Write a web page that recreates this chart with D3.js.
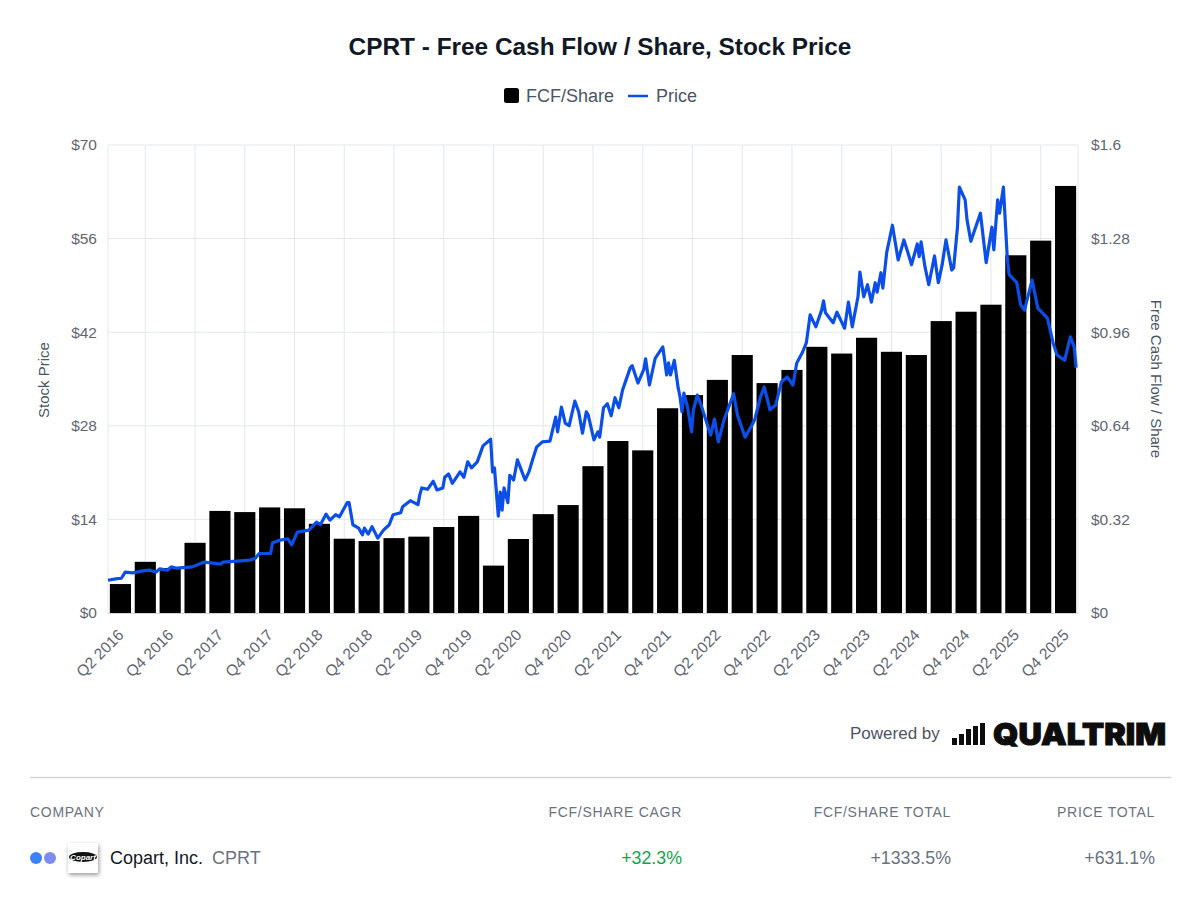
<!DOCTYPE html>
<html>
<head>
<meta charset="utf-8">
<script src="https://cdn.jsdelivr.net/npm/d3@7"></script>
<style>
  body { margin: 0; background: #fff; font-family: "Liberation Sans", Arial, sans-serif; }
  svg text { font-family: "Liberation Sans", Arial, sans-serif; }
</style>
</head>
<body>
<svg id="chart" width="1200" height="900"></svg>
<script>
'use strict';

// Chart data
const quarters = [
    'Q2 2016', 'Q3 2016', 'Q4 2016', 'Q1 2017', 'Q2 2017', 'Q3 2017', 'Q4 2017', 'Q1 2018',
    'Q2 2018', 'Q3 2018', 'Q4 2018', 'Q1 2019', 'Q2 2019', 'Q3 2019', 'Q4 2019', 'Q1 2020',
    'Q2 2020', 'Q3 2020', 'Q4 2020', 'Q1 2021', 'Q2 2021', 'Q3 2021', 'Q4 2021', 'Q1 2022',
    'Q2 2022', 'Q3 2022', 'Q4 2022', 'Q1 2023', 'Q2 2023', 'Q3 2023', 'Q4 2023', 'Q1 2024',
    'Q2 2024', 'Q3 2024', 'Q4 2024', 'Q1 2025', 'Q2 2025', 'Q3 2025', 'Q4 2025'
];
const fcfPerShare = [
    0.099, 0.175, 0.154, 0.240, 0.349, 0.345, 0.361, 0.358,
    0.305, 0.254, 0.246, 0.256, 0.261, 0.294, 0.332, 0.162,
    0.253, 0.338, 0.369, 0.502, 0.588, 0.556, 0.700, 0.745,
    0.797, 0.882, 0.786, 0.831, 0.910, 0.887, 0.941, 0.893,
    0.882, 0.998, 1.030, 1.054, 1.223, 1.273, 1.460
];
// weeks since the start of Q2 2016
const priceWeeks = [
    0, 4, 7, 9, 13, 18, 22, 25, 27, 31, 33, 36, 44, 50, 54, 59, 60, 69, 74, 77,
    79, 85, 86, 90, 94, 96, 99, 105, 109, 111, 114, 116, 119, 121, 125, 126, 128, 131, 133, 134,
    136, 138, 141, 144, 147, 149, 153, 154, 158, 162, 163, 164, 167, 170, 172, 175, 176, 178, 180, 184,
    186, 188, 190, 193, 196, 200, 201, 202, 204, 205, 206, 207, 209, 210, 212, 214, 216, 218, 220, 222,
    224, 227, 231, 234, 235, 237, 239, 241, 244, 246, 248, 250, 251, 254, 256, 257, 259, 261, 263, 265,
    267, 269, 273, 274, 277, 280, 281, 283, 286, 290, 292, 293, 294, 296, 298, 299, 300, 301, 303, 305,
    306, 308, 310, 313, 315, 317, 319, 322, 327, 329, 333, 336, 338, 341, 343, 346, 349, 352, 355, 358,
    360, 363, 365, 367, 370, 373, 374, 375, 379, 381, 385, 387, 389, 392, 393, 395, 397, 399, 401, 402,
    404, 405, 407, 410, 413, 416, 418, 420, 423, 424, 425, 427, 429, 432, 434, 436, 438, 441, 442, 444,
    445, 448, 449, 451, 453, 456, 459, 462, 463, 465, 466, 468, 470, 471, 475, 477, 479, 483, 486, 491,
    494, 496, 500, 503, 505, 506
];
const priceValues = [
    4.9, 5.1, 5.2, 6.1, 6.0, 6.3, 6.4, 6.1, 6.6, 6.4, 6.9, 6.7, 6.9, 7.6, 7.5, 7.3, 7.6, 7.8, 7.9, 8.2,
    8.9, 8.9, 10.5, 10.9, 11.1, 10.2, 12.1, 12.4, 13.6, 13.2, 14.8, 13.9, 14.7, 14.4, 16.5, 16.5, 13.2, 12.7, 11.7, 12.7,
    11.8, 12.9, 11.2, 12.4, 13.2, 14.7, 15.0, 15.9, 16.8, 16.2, 17.7, 18.7, 18.5, 19.7, 18.4, 18.7, 20.3, 20.8, 19.4, 21.1,
    20.3, 22.6, 21.7, 22.6, 25.0, 26.0, 21.1, 21.7, 14.5, 18.1, 15.4, 18.7, 16.5, 20.6, 19.9, 22.9, 21.4, 19.9, 21.1, 23.0,
    24.8, 25.6, 25.7, 29.3, 27.1, 30.8, 28.4, 28.0, 31.7, 30.1, 26.9, 30.1, 29.6, 25.9, 27.1, 26.3, 30.7, 31.3, 29.5, 32.2,
    30.7, 33.4, 36.7, 37.0, 34.4, 36.4, 38.0, 34.1, 38.1, 39.8, 35.6, 37.4, 35.6, 37.8, 33.7, 32.3, 30.1, 32.9, 30.7, 27.1,
    30.4, 32.6, 31.1, 28.4, 26.6, 29.0, 25.6, 28.9, 32.8, 29.6, 26.3, 27.8, 28.9, 32.3, 33.8, 30.4, 31.1, 34.6, 35.3, 34.1,
    37.4, 39.0, 40.4, 44.6, 42.8, 45.3, 46.7, 44.9, 43.4, 45.0, 42.6, 46.5, 42.8, 47.3, 51.0, 47.3, 49.1, 46.5, 49.4, 48.0,
    50.9, 48.6, 53.9, 58.0, 52.8, 55.8, 54.0, 52.1, 55.2, 53.3, 55.5, 51.8, 49.1, 53.4, 49.4, 52.1, 55.8, 51.3, 51.6, 57.7,
    63.7, 61.8, 58.8, 55.6, 57.3, 59.8, 52.4, 57.7, 54.3, 61.8, 59.8, 63.7, 53.3, 50.6, 49.4, 46.1, 45.3, 49.8, 45.6, 44.1,
    40.4, 38.6, 37.8, 41.3, 39.8, 36.7
];
const priceTicks = [0, 14, 28, 42, 56, 70];
const fcfTicks = [0, 0.32, 0.64, 0.96, 1.28, 1.6];
const logoBarHeights = [7, 11, 16, 19, 22];
const tableHeaders = ['FCF/SHARE CAGR', 'FCF/SHARE TOTAL', 'PRICE TOTAL'];
const tableValues = ['+32.3%', '+1333.5%', '+631.1%'];
const tableRight = [682, 951, 1155];

const plot = { left: 108, right: 1078, top: 145, bottom: 613 };
const BLUE = '#0b4fe8';
const GRID = '#e5e7eb';
const LABEL = '#6b7280';

const svg = d3.select('#chart');

// Scales
const xBand = d3.scaleBand().domain(quarters).range([plot.left, plot.right])
    .paddingInner(0.15).paddingOuter(0.075);
const xWeek = d3.scaleLinear().domain([0, 507]).range([plot.left, plot.right]);
const yPrice = d3.scaleLinear().domain([0, 70]).range([plot.bottom, plot.top]);
const yFcf = d3.scaleLinear().domain([0, 1.6]).range([plot.bottom, plot.top]);

// Title
svg.append('text').attr('x', 600).attr('y', 55).attr('text-anchor', 'middle')
    .attr('font-size', 24.4).attr('font-weight', 700).attr('fill', '#111827')
    .text('CPRT - Free Cash Flow / Share, Stock Price');

// Legend
svg.append('rect').attr('x', 504).attr('y', 88).attr('width', 15).attr('height', 15).attr('rx', 2.5).attr('fill', '#000');
svg.append('text').attr('x', 526).attr('y', 102).attr('font-size', 18).attr('fill', '#4b5563').text('FCF/Share');
svg.append('line').attr('x1', 628).attr('x2', 648).attr('y1', 96).attr('y2', 96).attr('stroke', BLUE).attr('stroke-width', 2.5);
svg.append('text').attr('x', 656).attr('y', 102).attr('font-size', 18).attr('fill', '#4b5563').text('Price');

// Grid
svg.append('g').selectAll('line').data(priceTicks.slice(1)).join('line')
    .attr('x1', plot.left).attr('x2', plot.right)
    .attr('y1', d => yPrice(d)).attr('y2', d => yPrice(d))
    .attr('stroke', GRID);
const gridQuarters = quarters.filter((q, i) => i % 2 === 1);
svg.append('g').selectAll('line').data(gridQuarters).join('line')
    .attr('x1', d => xBand(d) + xBand.bandwidth() / 2).attr('x2', d => xBand(d) + xBand.bandwidth() / 2)
    .attr('y1', plot.top).attr('y2', plot.bottom)
    .attr('stroke', GRID);
[plot.left, plot.right].forEach(x => {
    svg.append('line').attr('x1', x).attr('x2', x).attr('y1', plot.top).attr('y2', plot.bottom).attr('stroke', GRID);
});

// Bars
svg.append('g').selectAll('rect').data(fcfPerShare).join('rect')
    .attr('x', (d, i) => xBand(quarters[i]))
    .attr('width', xBand.bandwidth())
    .attr('y', d => yFcf(d))
    .attr('height', d => plot.bottom - yFcf(d))
    .attr('fill', '#000');

// Baseline
svg.append('line').attr('x1', plot.left).attr('x2', plot.right).attr('y1', plot.bottom + 0.5).attr('y2', plot.bottom + 0.5)
    .attr('stroke', '#d1d5db');

// Price line
const priceLine = d3.line()
    .x(d => xWeek(d))
    .y((d, i) => yPrice(priceValues[i]));
svg.append('path').attr('d', priceLine(priceWeeks))
    .attr('fill', 'none').attr('stroke', BLUE).attr('stroke-width', 3.2).attr('stroke-linejoin', 'round');

// Axes
function styleAxis(g) {
    g.select('.domain').remove();
    g.selectAll('.tick line').remove();
    g.selectAll('text').attr('fill', '#5f6672').attr('font-size', 15.5);
}
svg.append('g').attr('transform', `translate(${plot.left},0)`)
    .call(d3.axisLeft(yPrice).tickValues(priceTicks).tickFormat(d => '$' + d).tickPadding(11).tickSize(0))
    .call(styleAxis);
svg.append('g').attr('transform', `translate(${plot.right},0)`)
    .call(d3.axisRight(yFcf).tickValues(fcfTicks).tickFormat(d => '$' + d).tickPadding(13).tickSize(0))
    .call(styleAxis);

const xTicks = quarters.filter((q, i) => i % 2 === 0);
svg.append('g').attr('transform', `translate(0,${plot.bottom})`)
    .call(d3.axisBottom(xBand).tickValues(xTicks).tickSize(0))
    .call(styleAxis)
    .selectAll('text')
    .attr('text-anchor', 'end')
    .attr('dx', '3')
    .attr('dy', '0')
    .attr('transform', 'translate(0,23) rotate(-45)');

svg.append('text').attr('transform', 'translate(49,380) rotate(-90)').attr('text-anchor', 'middle')
    .attr('font-size', 15).attr('fill', '#4b5563').text('Stock Price');
svg.append('text').attr('transform', 'translate(1151,379) rotate(90)').attr('text-anchor', 'middle')
    .attr('font-size', 15).attr('fill', '#4b5563').text('Free Cash Flow / Share');

// Powered by
svg.append('text').attr('x', 850).attr('y', 739).attr('font-size', 17).attr('fill', '#4b5563').text('Powered by');
svg.append('g').selectAll('rect').data(logoBarHeights).join('rect')
    .attr('x', (d, i) => 952 + i * 7)
    .attr('y', d => 745 - d)
    .attr('width', 5)
    .attr('height', d => d)
    .attr('fill', '#0d0d0d');
svg.append('text').attr('x', 993).attr('y', 745).attr('font-size', 30)
    .attr('textLength', 173).attr('lengthAdjust', 'spacingAndGlyphs')
    .attr('style', 'font-family: Inter, "Liberation Sans", sans-serif; font-weight: 900;')
    .attr('fill', '#0d0d0d').attr('stroke', '#0d0d0d').attr('stroke-width', 1)
    .text('QUALTRIM');

// Summary table
svg.append('line').attr('x1', 30).attr('x2', 1171).attr('y1', 777.5).attr('y2', 777.5).attr('stroke', '#d1d5db').attr('stroke-width', 1.5);
svg.append('text').attr('x', 30).attr('y', 817).attr('font-size', 14).attr('letter-spacing', 0.7).attr('fill', LABEL).text('COMPANY');
svg.append('g').selectAll('text').data(tableHeaders).join('text')
    .attr('x', (d, i) => tableRight[i]).attr('y', 817).attr('text-anchor', 'end')
    .attr('font-size', 14).attr('letter-spacing', 0.7).attr('fill', LABEL).text(d => d);
svg.append('g').selectAll('text').data(tableValues).join('text')
    .attr('x', (d, i) => tableRight[i]).attr('y', 864).attr('text-anchor', 'end')
    .attr('font-size', 17.8).attr('fill', (d, i) => i === 0 ? '#16a34a' : LABEL).text(d => d);

svg.append('circle').attr('cx', 36).attr('cy', 858).attr('r', 6).attr('fill', '#3b82f6');
svg.append('circle').attr('cx', 50).attr('cy', 858).attr('r', 6).attr('fill', '#7c8cf0');
svg.append('rect').attr('x', 68).attr('y', 843).attr('width', 30).attr('height', 30).attr('fill', '#fff')
    .style('filter', 'drop-shadow(1px 2px 2px rgba(0,0,0,0.4))');
svg.append('ellipse').attr('cx', 83).attr('cy', 857).attr('rx', 14).attr('ry', 5).attr('fill', '#111');
svg.append('text').attr('x', 83).attr('y', 860).attr('text-anchor', 'middle').attr('font-size', 8).attr('font-weight', 700)
    .attr('font-style', 'italic').attr('fill', '#fff').text('Copart');
svg.append('text').attr('x', 110).attr('y', 864).attr('font-size', 18).attr('fill', '#111827').text('Copart, Inc.');
svg.append('text').attr('x', 212).attr('y', 864).attr('font-size', 18).attr('fill', LABEL).text('CPRT');
</script>
</body>
</html>
